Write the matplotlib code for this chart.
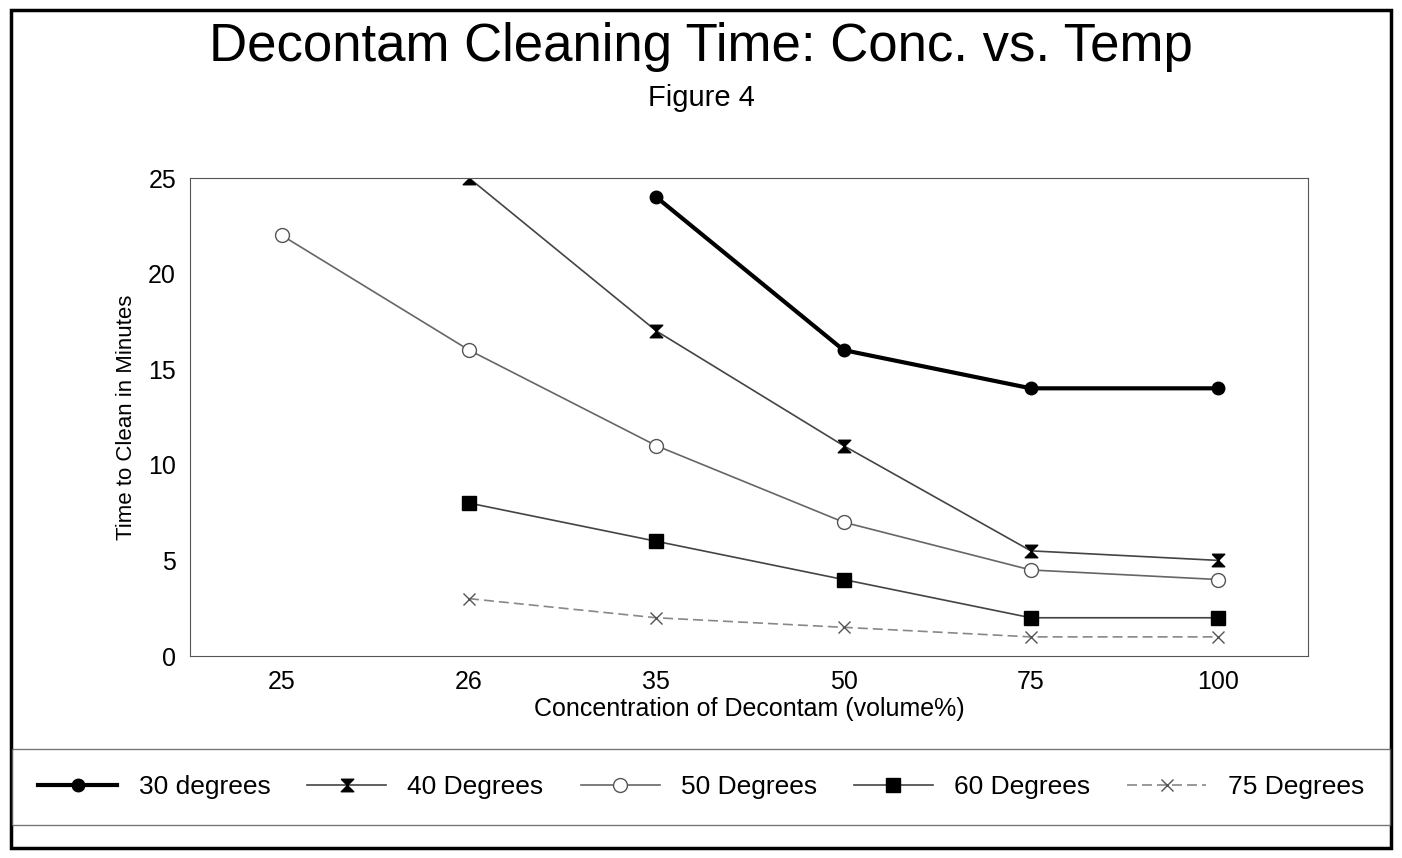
import numpy as np
import matplotlib.pyplot as plt
from matplotlib.patches import Rectangle

plt.rcParams["font.family"] = ["Liberation Sans", "DejaVu Sans"]

concentrations = ["25", "26", "35", "50", "75", "100"]
deg30 = [np.nan, np.nan, 24, 16, 14, 14]
deg40 = [np.nan, 25, 17, 11, 5.5, 5]
deg50 = [22, 16, 11, 7, 4.5, 4]
deg60 = [np.nan, 8, 6, 4, 2, 2]
deg75 = [np.nan, 3, 2, 1.5, 1, 1]

hourglass = [(-1, 1), (1, 1), (-1, -1), (1, -1), (-1, 1)]

fig = plt.figure(figsize=(14.02, 8.58), dpi=100)
fig.patches.append(Rectangle((0.008, 0.012), 0.984, 0.976, transform=fig.transFigure,
                             fill=False, edgecolor="black", linewidth=2.5))

ax = fig.add_axes([190 / 1402, 1 - 656 / 858, 1118 / 1402, 478 / 858])
x = np.arange(len(concentrations))

h30, = ax.plot(x, deg30, color="black", linewidth=3, marker="o", markersize=9, label="30 degrees")
h40, = ax.plot(x, deg40, color="#444444", linewidth=1.2, marker=hourglass, markersize=9,
               markerfacecolor="black", markeredgecolor="black", label="40 Degrees")
h50, = ax.plot(x, deg50, color="#666666", linewidth=1.2, marker="o", markersize=10,
               markerfacecolor="white", markeredgecolor="#555555", label="50 Degrees")
h60, = ax.plot(x, deg60, color="#444444", linewidth=1.2, marker="s", markersize=10,
               markerfacecolor="black", markeredgecolor="black", label="60 Degrees")
h75, = ax.plot(x, deg75, color="#888888", linewidth=1.2, linestyle=(0, (6, 3)), marker="x",
               markersize=9, markeredgecolor="#555555", label="75 Degrees")

ax.set_xlim(-0.49, 5.48)
ax.set_ylim(0, 25)
ax.set_xticks(x)
ax.set_xticklabels(concentrations)
ax.set_yticks([0, 5, 10, 15, 20, 25])
ax.tick_params(labelsize=18, length=0, pad=10)
for s in ax.spines.values():
    s.set_color("#555555")
ax.set_xlabel("Concentration of Decontam (volume%)", fontsize=18, labelpad=2)
ax.set_ylabel("Time to Clean in Minutes", fontsize=16, labelpad=8)

fig.text(0.5, 1 - 47 / 858, "Decontam Cleaning Time: Conc. vs. Temp", fontsize=38,
         ha="center", va="center")
fig.text(0.5, 1 - 98 / 858, "Figure 4", fontsize=21, ha="center", va="center")

leg = fig.legend(handles=[h30, h40, h50, h60, h75], loc="center",
                 bbox_to_anchor=(0.5, 1 - 787 / 858), ncol=5, fontsize=19,
                 frameon=True, fancybox=False, edgecolor="#555555",
                 handlelength=3, columnspacing=1.4, borderpad=1.0)

plt.savefig("out.png", dpi=100)
